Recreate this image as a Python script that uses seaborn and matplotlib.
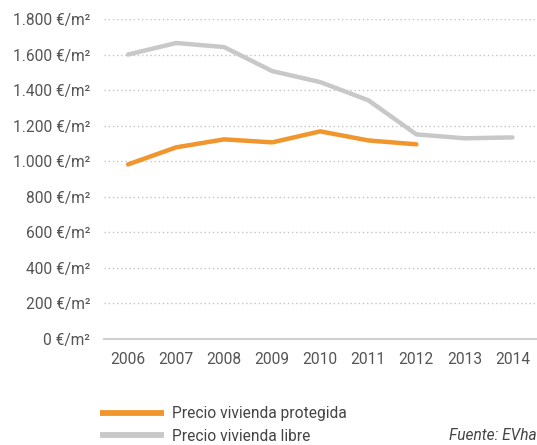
import seaborn as sns
import matplotlib.pyplot as plt
import pandas as pd
from matplotlib.lines import Line2D
from matplotlib.ticker import FixedLocator

YEARS = ["2006", "2007", "2008", "2009", "2010", "2011", "2012", "2013", "2014"]
PROTEGIDA = [982, 1078, 1123, 1106, 1168, 1117, 1095, None, None]
LIBRE = [1600, 1665, 1642, 1507, 1445, 1343, 1151, 1129, 1134]
SERIES = ["Precio vivienda protegida", "Precio vivienda libre"]
YTICKS = [0, 200, 400, 600, 800, 1000, 1200, 1400, 1600, 1800]
YLABELS = ["0 €/m²", "200 €/m²", "400 €/m²", "600 €/m²", "800 €/m²",
           "1.000 €/m²", "1.200 €/m²", "1.400 €/m²", "1.600 €/m²", "1.800 €/m²"]
COLORS = {SERIES[0]: "#F0962D", SERIES[1]: "#C8C8C8"}

sns.set_style("white")
plt.rcParams['font.family'] = ['Roboto', 'DejaVu Sans']
FS = 11.2

df = pd.DataFrame({
    "year": YEARS * 2,
    "price": PROTEGIDA + LIBRE,
    "serie": [SERIES[0]] * len(YEARS) + [SERIES[1]] * len(YEARS),
}).dropna()

fig = plt.figure(figsize=(5.37, 4.45), dpi=100)
ax = fig.add_axes([104 / 537, 1 - 339 / 445, 1 - 104 / 537 - 0.001, (339 - 19) / 445])

sns.lineplot(data=df, x="year", y="price", hue="serie", hue_order=SERIES[::-1],
             palette=COLORS, linewidth=3.2, ax=ax, legend=False, sort=False,
             solid_capstyle="round")

ax.set_xlim(-0.5, len(YEARS) - 0.5)
ax.set_ylim(0, 1800)
ax.set_yticks(YTICKS)
ax.set_yticklabels(YLABELS)
ax.yaxis.grid(True, linestyle=(0, (1, 2)), color="#C4C4C4", linewidth=1)
ax.set_axisbelow(True)
for side in ["top", "right", "left"]:
    ax.spines[side].set_visible(False)
ax.spines["bottom"].set_color("#D0D0D0")
ax.spines["bottom"].set_linewidth(1.5)
ax.set_xticks(range(len(YEARS)))
ax.set_xticklabels(YEARS)
# tick marks sit between the years
ax.xaxis.set_minor_locator(FixedLocator([i - 0.5 for i in range(len(YEARS) + 1)]))
ax.tick_params(axis="x", which="major", length=0, pad=9, labelsize=FS, labelcolor="#555555")
ax.tick_params(axis="x", which="minor", length=4, width=1.2, color="#D0D0D0", direction="out")
ax.tick_params(axis="y", length=0, pad=10, labelsize=FS, labelcolor="#555555")
ax.set_xlabel(None)
ax.set_ylabel(None)

handles = [Line2D([], [], color=COLORS[s], linewidth=4.2, solid_capstyle="butt") for s in SERIES]
fig.legend(handles, SERIES, loc="center left", bbox_to_anchor=(100 / 537, 1 - 425 / 445),
           frameon=False, borderpad=0, borderaxespad=0, handlelength=4.1,
           handletextpad=0.5, labelspacing=0.5, fontsize=FS, labelcolor="#444444")
fig.text(537 / 537, 1 - 436 / 445, "Fuente: EVha", ha="right", va="center",
         fontsize=FS, style="italic", color="#444444")

fig.savefig("out.png", dpi=100)
